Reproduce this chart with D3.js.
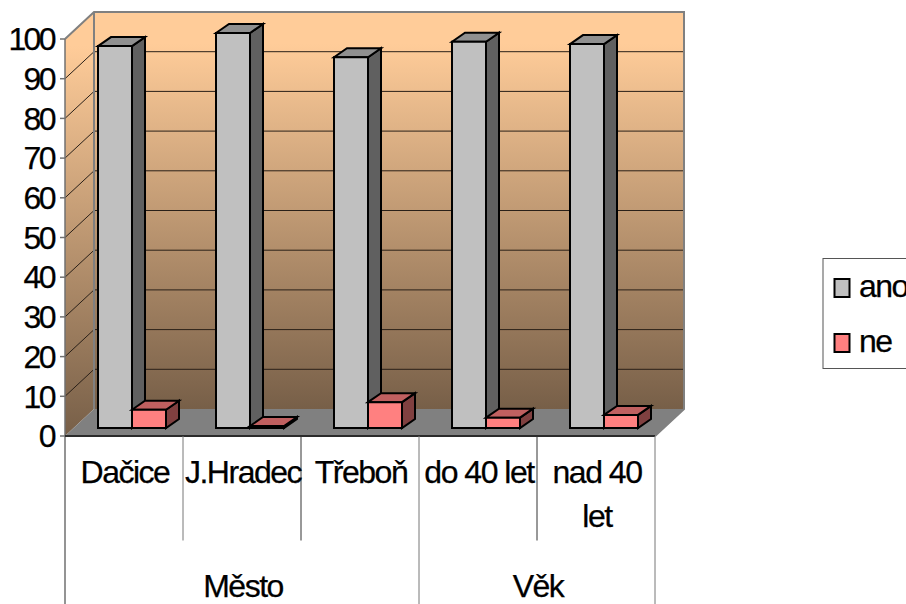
<!DOCTYPE html>
<html>
<head>
<meta charset="utf-8">
<script src="https://cdnjs.cloudflare.com/ajax/libs/d3/7.8.5/d3.min.js"></script>
<style>
html,body{margin:0;padding:0;background:#fff;overflow:hidden}
svg{display:block}
text{font-family:"Liberation Sans",Arial,sans-serif;fill:#000;stroke:#000;stroke-width:.25px}
</style>
</head>
<body>
<svg id="chart" width="906" height="604"></svg>
<script>
// Survey answers by town and age group
const categories = ["Dačice", "J.Hradec", "Třeboň", "do 40 let", "nad 40 let"];
const groups = ["Město", "Věk"];
const groupSpans = [3, 2];
const seriesNames = ["ano", "ne"];
const ano = [96.2, 99.5, 93.4, 97.3, 96.7];
const ne = [4.6, 0.5, 6.5, 2.6, 3.3];
const yTicks = [0, 10, 20, 30, 40, 50, 60, 70, 80, 90, 100];

const colors = {ano: "#c0c0c0", ne: "#ff8080"};
const svg = d3.select("#chart");

// Front plane of the 3D box
const x = d3.scaleBand().domain(categories).range([65, 655]);
const y = d3.scaleLinear().domain([0, 100]).range([436, 39]);
const wall = {dx: 29, dy: -27};
const plane = {dx: 8, dy: -8};
const barDepth = {dx: 13, dy: -9};
const barWidth = 34;
const s = d3.scaleBand().domain(seriesNames).range([0, barWidth * 2]);

const grad = svg.append("defs").append("linearGradient")
  .attr("id", "wallFill").attr("x1", 0).attr("y1", 0).attr("x2", 0).attr("y2", 1);
grad.append("stop").attr("offset", "8%").attr("stop-color", "#ffcc99");
grad.append("stop").attr("offset", "100%").attr("stop-color", "#775f48");

const poly = pts => pts.map(p => p.join(",")).join(" ");
const [x0, x1] = x.range();
const y0 = y(0), yTop = y(100);

// Left wall, back wall, floor
svg.append("polygon")
  .attr("points", poly([[x0, y0], [x0, yTop], [x0 + wall.dx, yTop + wall.dy], [x0 + wall.dx, y0 + wall.dy]]))
  .attr("fill", "url(#wallFill)");
svg.append("rect")
  .attr("x", x0 + wall.dx).attr("y", yTop + wall.dy)
  .attr("width", x1 - x0).attr("height", y0 - yTop)
  .attr("fill", "url(#wallFill)");
svg.append("polygon")
  .attr("points", poly([[x0, y0], [x1, y0], [x1 + wall.dx, y0 + wall.dy], [x0 + wall.dx, y0 + wall.dy]]))
  .attr("fill", "#808080");

// Gridlines across both walls
const gridTicks = yTicks.filter(t => t > 0 && t < 100);
svg.append("g").selectAll("path").data(gridTicks).join("path")
  .attr("d", t => `M${x0},${y(t)}L${x0 + wall.dx},${y(t) + wall.dy}H${x1 + wall.dx}`)
  .attr("fill", "none").attr("stroke", "#2a2018").attr("stroke-width", 1);

// Wall outline
svg.append("path")
  .attr("d", `M${x0},${yTop}L${x0 + wall.dx},${yTop + wall.dy}H${x1 + wall.dx}V${y0 + wall.dy}L${x1},${y0}`)
  .attr("fill", "none").attr("stroke", "#808080").attr("stroke-width", 2);
svg.append("path")
  .attr("d", `M${x0 + wall.dx},${yTop + wall.dy}V${y0 + wall.dy}`)
  .attr("fill", "none").attr("stroke", "#808080").attr("stroke-width", 2);

// Three-sided bars
function drawBar(g, cat, name, value) {
  const pad = (x.bandwidth() - barWidth * 2) / 2;
  const bx = x(cat) + pad + s(name) + plane.dx;
  const by = y(value) + plane.dy;
  const base = y(0) + plane.dy;
  const c = d3.color(colors[name]);
  const add = (points, fill) => {
    g.append("polygon").attr("points", poly(points)).attr("fill", fill)
      .attr("stroke", "#000").attr("stroke-width", 2).attr("stroke-linejoin", "miter");
  };
  add([[bx + barWidth, by], [bx + barWidth + barDepth.dx, by + barDepth.dy],
       [bx + barWidth + barDepth.dx, base + barDepth.dy], [bx + barWidth, base]], c.darker(1.94));
  add([[bx, by], [bx + barDepth.dx, by + barDepth.dy],
       [bx + barWidth + barDepth.dx, by + barDepth.dy], [bx + barWidth, by]], c.darker(0.8));
  add([[bx, by], [bx + barWidth, by], [bx + barWidth, base], [bx, base]], c);
}
const bars = svg.append("g");
categories.forEach((cat, i) => {
  drawBar(bars, cat, "ano", ano[i]);
  drawBar(bars, cat, "ne", ne[i]);
});

// Value axis
const axis = svg.append("g");
axis.append("line").attr("x1", x0).attr("x2", x0).attr("y1", yTop).attr("y2", 604)
  .attr("stroke", "#707070").attr("stroke-width", 1.5);
axis.selectAll("line.tick").data(yTicks).join("line").attr("class", "tick")
  .attr("x1", x0 - 5).attr("x2", x0).attr("y1", d => y(d)).attr("y2", d => y(d))
  .attr("stroke", "#707070").attr("stroke-width", 1.5);
axis.selectAll("text").data(yTicks).join("text")
  .attr("x", 54).attr("y", d => y(d)).attr("dy", "0.35em")
  .attr("text-anchor", "end").attr("font-size", 32).attr("letter-spacing", -2.6)
  .text(d => d);

// Category axis with its two-level labels
const catAxis = svg.append("g");
catAxis.append("line").attr("x1", x0).attr("x2", x1).attr("y1", y0).attr("y2", y0)
  .attr("stroke", "#2b2b2b").attr("stroke-width", 2);
categories.forEach((cat, i) => {
  const right = x(cat) + x.bandwidth();
  const isGroupEnd = i === 2 || i === 4;
  catAxis.append("line").attr("x1", right).attr("x2", right)
    .attr("y1", y0).attr("y2", isGroupEnd ? 604 : 540.5)
    .attr("stroke", i % 2 ? "#333" : "#777").attr("stroke-width", 1);
  const cx = x(cat) + x.bandwidth() / 2;
  const words = cat === "nad 40 let" ? ["nad 40", "let"] : [cat];
  words.forEach((w, j) => {
    catAxis.append("text")
      .attr("x", cx + 1).attr("y", 483 + j * 44)
      .attr("text-anchor", "middle").attr("font-size", 32).attr("letter-spacing", -1.5)
      .text(w);
  });
});
let start = 0;
groups.forEach((g, i) => {
  const from = x(categories[start]);
  const end = x(categories[start + groupSpans[i] - 1]) + x.bandwidth();
  catAxis.append("text")
    .attr("x", (from + end) / 2 + 1).attr("y", 596.5)
    .attr("text-anchor", "middle").attr("font-size", 32).attr("letter-spacing", -1.5)
    .text(g);
  start += groupSpans[i];
});

// Legend
const legend = svg.append("g");
legend.append("rect").attr("x", 823).attr("y", 258.5).attr("width", 100).attr("height", 110)
  .attr("fill", "#fff").attr("stroke", "#555").attr("stroke-width", 1);
const legendY = d3.scalePoint().domain(seriesNames).range([288, 343]);
seriesNames.forEach(name => {
  legend.append("rect")
    .attr("x", 834.5).attr("y", legendY(name) - 9).attr("width", 15).attr("height", 18)
    .attr("fill", colors[name]).attr("stroke", "#000").attr("stroke-width", 2);
  legend.append("text")
    .attr("x", 859).attr("y", legendY(name) + 9)
    .attr("font-size", 32).attr("letter-spacing", -1.5)
    .text(name);
});
</script>
</body>
</html>
